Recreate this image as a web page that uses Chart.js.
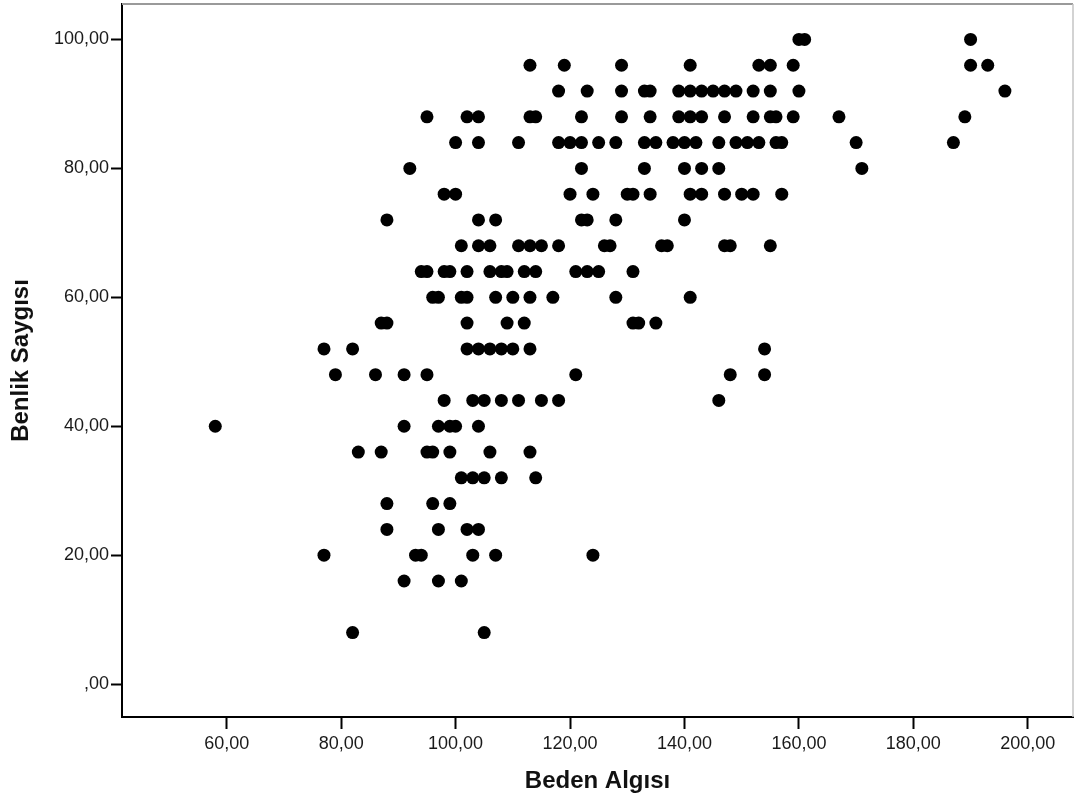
<!DOCTYPE html>
<html lang="tr">
<head>
<meta charset="utf-8">
<title>Beden Algısı - Benlik Saygısı</title>
<script src="https://cdn.jsdelivr.net/npm/chart.js@4.4.1/dist/chart.umd.min.js"></script>
<style>
  html, body { margin: 0; padding: 0; background: #fff; }
  #wrap { width: 1074px; height: 802px; }
</style>
</head>
<body>
<div id="wrap"><canvas id="scatterChart" width="1074" height="802"></canvas></div>
<script>
// Benlik Saygısı levels (y) and the Beden Algısı scores (x) seen on each level
const benlikSaygisiLevels = [100, 96, 92, 88, 84, 80, 76, 72, 68, 64, 60, 56, 52, 48, 44, 40, 36, 32, 28, 24, 20, 16, 8];
const bedenAlgisiByLevel = [
    [160, 161, 190],
    [113, 119, 129, 141, 153, 155, 159, 190, 193],
    [118, 123, 129, 133, 134, 139, 141, 143, 145, 147, 149, 152, 155, 160, 196],
    [95, 102, 104, 113, 114, 122, 129, 134, 139, 141, 143, 147, 152, 155, 156, 159, 167, 189],
    [100, 104, 111, 118, 120, 122, 125, 128, 133, 135, 138, 140, 142, 146, 149, 151, 153, 156, 157, 170, 187],
    [92, 122, 133, 140, 143, 146, 171],
    [98, 100, 120, 124, 130, 131, 134, 141, 143, 147, 150, 152, 157],
    [88, 104, 107, 122, 123, 128, 140],
    [101, 104, 106, 111, 113, 115, 118, 126, 127, 136, 137, 147, 148, 155],
    [94, 95, 98, 99, 102, 106, 108, 109, 112, 114, 121, 123, 125, 131],
    [96, 97, 101, 102, 107, 110, 113, 117, 128, 141],
    [87, 88, 102, 109, 112, 131, 132, 135],
    [77, 82, 102, 104, 106, 108, 110, 113, 154],
    [79, 86, 91, 95, 121, 148, 154],
    [98, 103, 105, 108, 111, 115, 118, 146],
    [58, 91, 97, 99, 100, 104],
    [83, 87, 95, 96, 99, 106, 113],
    [101, 103, 105, 108, 114],
    [88, 96, 99],
    [88, 97, 102, 104],
    [77, 93, 94, 103, 107, 124],
    [91, 97, 101],
    [82, 105]
];

const xTickValues = [60, 80, 100, 120, 140, 160, 180, 200];
const xTickLabels = ['60,00', '80,00', '100,00', '120,00', '140,00', '160,00', '180,00', '200,00'];
const yTickValues = [0, 20, 40, 60, 80, 100];
const yTickLabels = [',00', '20,00', '40,00', '60,00', '80,00', '100,00'];

const points = [];
benlikSaygisiLevels.forEach((level, i) => {
    bedenAlgisiByLevel[i].forEach(x => points.push({ x: x, y: level }));
});

// top and right edges of the plot frame (SPSS draws them grey)
const framePlugin = {
    id: 'frame',
    afterDraw(chart) {
        const { ctx, chartArea } = chart;
        ctx.save();
        ctx.strokeStyle = '#9a9a9a';
        ctx.lineWidth = 2;
        ctx.beginPath();
        ctx.moveTo(chartArea.left, chartArea.top);
        ctx.lineTo(chartArea.right, chartArea.top);
        ctx.stroke();
        ctx.strokeStyle = '#c4c4c4';
        ctx.lineWidth = 1.5;
        ctx.beginPath();
        ctx.moveTo(chartArea.right, chartArea.top);
        ctx.lineTo(chartArea.right, chartArea.bottom);
        ctx.stroke();
        ctx.restore();
    }
};

const tickFont = { family: 'Liberation Sans', size: 18 };
const titleFont = { family: 'Liberation Sans', size: 24, weight: 'bold' };

new Chart(document.getElementById('scatterChart'), {
    type: 'scatter',
    data: {
        datasets: [{
            label: 'Benlik Saygısı',
            data: points,
            pointRadius: 6.5,
            pointHoverRadius: 6.5,
            pointBackgroundColor: '#000',
            pointBorderWidth: 0
        }]
    },
    options: {
        responsive: false,
        animation: false,
        devicePixelRatio: 1,
        events: [],
        layout: { autoPadding: false, padding: { top: 4, right: 1, left: 0, bottom: 0 } },
        plugins: {
            legend: { display: false },
            tooltip: { enabled: false }
        },
        scales: {
            x: {
                type: 'linear',
                min: 41.7,
                max: 207.9,
                afterBuildTicks: scale => { scale.ticks = xTickValues.map(v => ({ value: v })); },
                afterFit: scale => { scale.height = 85; scale.paddingLeft = 0; scale.paddingRight = 0; },
                grid: { drawOnChartArea: false, tickLength: 12, tickColor: '#000', tickWidth: 2 },
                border: { color: '#000', width: 2 },
                ticks: {
                    autoSkip: false,
                    maxRotation: 0,
                    padding: 4,
                    color: '#1a1a1a',
                    font: tickFont,
                    callback: (value, index) => xTickLabels[index]
                },
                title: {
                    display: true,
                    text: 'Beden Algısı',
                    color: '#111',
                    font: titleFont,
                    padding: { top: 0, bottom: 6 }
                }
            },
            y: {
                type: 'linear',
                min: -5.1,
                max: 105.5,
                afterBuildTicks: scale => { scale.ticks = yTickValues.map(v => ({ value: v })); },
                afterFit: scale => { scale.width = 122; scale.paddingTop = 0; scale.paddingBottom = 0; },
                grid: { drawOnChartArea: false, tickLength: 11, tickColor: '#000', tickWidth: 2 },
                border: { color: '#000', width: 2 },
                ticks: {
                    padding: 2,
                    color: '#1a1a1a',
                    font: tickFont,
                    callback: (value, index) => yTickLabels[index]
                },
                title: {
                    display: true,
                    text: 'Benlik Saygısı',
                    color: '#111',
                    font: titleFont,
                    padding: { top: 7, bottom: 0 }
                }
            }
        }
    },
    plugins: [framePlugin]
});
</script>
</body>
</html>
